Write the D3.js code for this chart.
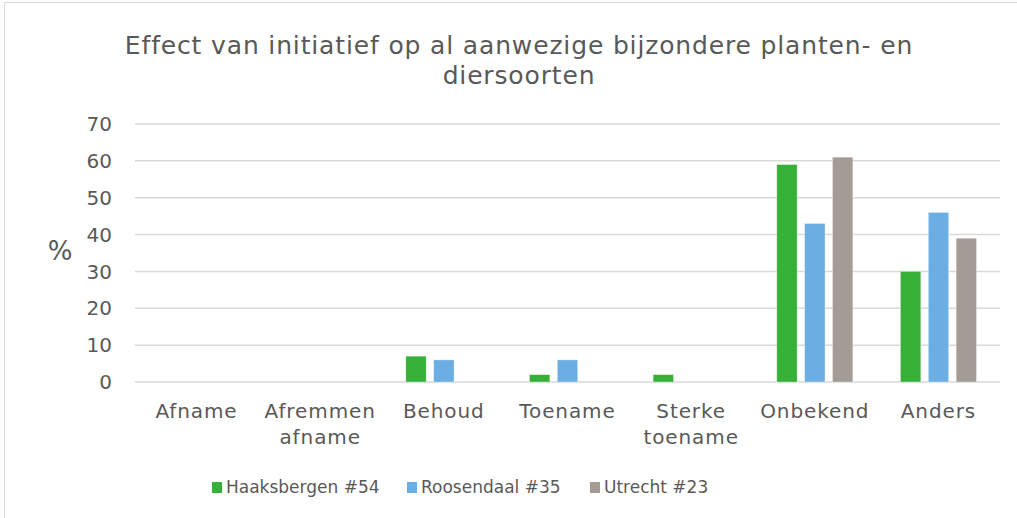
<!DOCTYPE html>
<html>
<head>
<meta charset="utf-8">
<script src="https://cdn.jsdelivr.net/npm/d3@7"></script>
<style>
  body { margin: 0; background: #fff; }
  svg { display: block; font-family: "DejaVu Sans", Verdana, sans-serif; }
</style>
</head>
<body>
<svg id="chart" width="1017" height="518"></svg>
<script>
const categories = [["Afname"], ["Afremmen", "afname"], ["Behoud"], ["Toename"], ["Sterke", "toename"], ["Onbekend"], ["Anders"]];
const seriesNames = ["Haaksbergen #54", "Roosendaal #35", "Utrecht #23"];
const haaksbergen = [0, 0, 7, 2, 2, 59, 30];
const roosendaal = [0, 0, 6, 6, 0, 43, 46];
const utrecht = [0, 0, 0, 0, 0, 61, 39];
const yTicks = [0, 10, 20, 30, 40, 50, 60, 70];
const colors = ["#36b037", "#6aaee3", "#a59b95"];

const series = [haaksbergen, roosendaal, utrecht];
const svg = d3.select('#chart');
const textColor = '#595959';

// outer frame
svg.append('rect')
  .attr('x', 4.5).attr('y', 2.5)
  .attr('width', 1030).attr('height', 530)
  .attr('fill', 'none').attr('stroke', '#d9d9d9').attr('stroke-width', 1);

// title
const title = svg.append('text')
  .attr('text-anchor', 'middle')
  .attr('fill', textColor)
  .style('font-size', '25px')
  .style('letter-spacing', '0.85px');
title.append('tspan').attr('x', 519).attr('y', 54).text('Effect van initiatief op al aanwezige bijzondere planten- en');
title.append('tspan').attr('x', 519).attr('y', 84).text('diersoorten');

const x = d3.scaleBand()
  .domain(d3.range(categories.length))
  .range([135, 1000])
  .paddingInner(0.385)
  .paddingOuter(0.19);

const xs = d3.scaleBand()
  .domain(d3.range(series.length))
  .range([0, x.bandwidth()])
  .paddingInner(0.27);

const y = d3.scaleLinear().domain([0, 70]).range([382, 124]);

// gridlines
svg.append('g')
  .selectAll('line')
  .data(yTicks)
  .join('line')
  .attr('x1', 135).attr('x2', 1000)
  .attr('y1', d => y(d)).attr('y2', d => y(d))
  .attr('stroke', '#d9d9d9').attr('stroke-width', 1.5);

// y axis labels
svg.append('g')
  .selectAll('text')
  .data(yTicks)
  .join('text')
  .attr('x', 112)
  .attr('y', d => y(d))
  .attr('dy', '0.36em')
  .attr('text-anchor', 'end')
  .attr('fill', textColor)
  .style('font-size', '20px')
  .text(d => d);

svg.append('text')
  .attr('x', 60).attr('y', 251)
  .attr('dy', '0.36em')
  .attr('text-anchor', 'middle')
  .attr('fill', textColor)
  .style('font-size', '26px')
  .text('%');

// bars
series.forEach((vals, si) => {
  svg.append('g')
    .selectAll('rect')
    .data(vals.map((v, i) => ({ i, v })).filter(d => d.v > 0))
    .join('rect')
    .attr('x', d => x(d.i) + xs(si))
    .attr('y', d => y(d.v))
    .attr('width', xs.bandwidth())
    .attr('height', d => y(0) - y(d.v))
    .attr('fill', colors[si])
    .attr('stroke', '#fff').attr('stroke-opacity', 0.4).attr('stroke-width', 0.8);
});

// category labels
const catLabels = svg.append('g')
  .selectAll('text')
  .data(categories)
  .join('text')
  .attr('text-anchor', 'middle')
  .attr('fill', textColor)
  .style('font-size', '20px')
  .style('letter-spacing', '0.9px');
catLabels.each(function (lines, i) {
  d3.select(this).selectAll('tspan')
    .data(lines)
    .join('tspan')
    .attr('x', x(i) + x.bandwidth() / 2)
    .attr('y', (d, j) => 418 + j * 26)
    .text(d => d);
});

// legend
const legendX = [212, 407, 590];
const legend = svg.append('g')
  .selectAll('g')
  .data(seriesNames)
  .join('g')
  .attr('transform', (d, i) => `translate(${legendX[i]},487)`);
legend.append('rect')
  .attr('x', 0).attr('y', -5)
  .attr('width', 10).attr('height', 11)
  .attr('fill', (d, i) => colors[i]);
legend.append('text')
  .attr('x', 14).attr('y', 0)
  .attr('dy', '0.36em')
  .attr('fill', textColor)
  .style('font-size', '17px')
  .text(d => d);
</script>
</body>
</html>
